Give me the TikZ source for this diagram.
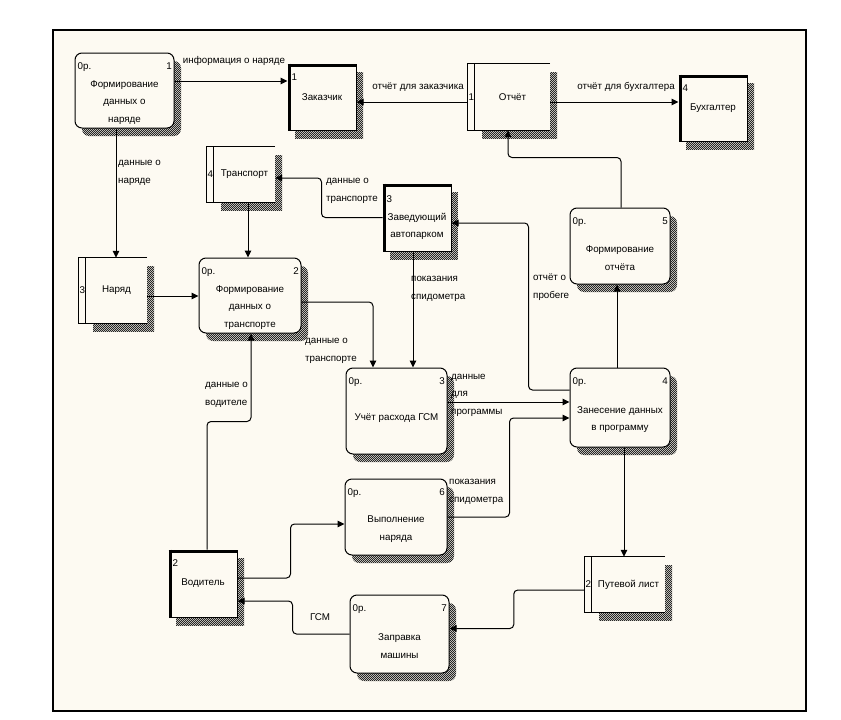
\documentclass[tikz,border=0pt]{standalone}
\usepackage{fontspec}
\setmainfont{Liberation Sans}
\usepackage{tikz}
\usetikzlibrary{arrows.meta,shadows,patterns}
\definecolor{bg}{RGB}{253,250,242}
\newcommand{\dfdFont}{\fontsize{9.8}{17.5}\selectfont}
\newcommand{\dfdLine}{1pt}
\pgfdeclarepatternformonly{dfdhatch}{\pgfqpoint{0pt}{0pt}}{\pgfqpoint{2.4pt}{2.4pt}}{\pgfqpoint{2.4pt}{2.4pt}}{%
	\pgfpathrectangle{\pgfpointorigin}{\pgfqpoint{1.5pt}{1.5pt}}%
	\pgfpathrectangle{\pgfqpoint{1.2pt}{1.2pt}}{\pgfqpoint{1.5pt}{1.5pt}}%
	\pgfusepath{fill}}

\begin{document}
\begin{tikzpicture}[x=1pt, y=-1pt, font=\dfdFont,
		every node/.style={inner sep=0pt},
		shadowed/.style={drop shadow={shadow xshift=7pt, shadow yshift=-8pt, opacity=1, pattern=dfdhatch, pattern color=black!85}},
		process/.style={draw, line width=\dfdLine, rounded corners=7pt, fill=bg, shadowed, minimum width=100pt, minimum height=76pt},
		entity/.style={draw, line width=\dfdLine, fill=bg, shadowed, minimum width=68pt, minimum height=66pt},
		store/.style={fill=bg, shadowed, minimum height=55pt},
		ptext/.style={anchor=center, align=center, yshift=-12pt},
		pnum/.style={anchor=north west, xshift=3pt, yshift=-10pt},
		pnumr/.style={anchor=north east, xshift=-2.5pt, yshift=-10pt},
		snum/.style={anchor=center, xshift=-3.5pt},
		flow/.style={line width=1pt, rounded corners=4pt, -{Triangle[length=7pt,width=6.5pt]}},
		flowtext/.style={align=left, anchor=west}]
	\useasboundingbox (0,0) rectangle (841,720);
	\fill[white] (0,0) rectangle (841,720);
	\draw[fill=bg, line width=1.3pt] (53,30) rectangle (806,711);

	% processes
	\node[process, minimum width=99pt, minimum height=75pt, label={[pnum]north west:0р.}, label={[pnumr]north east:1},
		label={[ptext]center:{Формирование\\данных о\\наряде}}] (p1) at (124.5,90.5) {};
	\node[process, minimum width=102pt, minimum height=75pt, label={[pnum]north west:0р.}, label={[pnumr]north east:2},
		label={[ptext]center:{Формирование\\данных о\\транспорте}}] (p2) at (250,295.5) {};
	\node[process, minimum width=101pt, minimum height=86pt, label={[pnum]north west:0р.}, label={[pnumr]north east:3},
		label={[ptext, yshift=5pt]center:{Учёт расхода ГСМ}}] (p3) at (396.5,411) {};
	\node[process, minimum height=79pt, label={[pnum]north west:0р.}, label={[pnumr]north east:4},
		label={[ptext]center:{Занесение данных\\в программу}}] (p4) at (620,407.5) {};
	\node[process, label={[pnum]north west:0р.}, label={[pnumr]north east:5},
		label={[ptext]center:{Формирование\\отчёта}}] (p5) at (620,246) {};
	\node[process, minimum width=102pt, label={[pnum]north west:0р.}, label={[pnumr]north east:6},
		label={[ptext]center:{Выполнение\\наряда}}] (p6) at (396,517) {};
	\node[process, minimum width=99pt, minimum height=78pt, label={[pnum]north west:0р.}, label={[pnumr]north east:7},
		label={[ptext]center:{Заправка\\машины}}] (p7) at (399.5,634) {};

	% external entities
	\node[entity, label={[pnum, xshift=1pt]north west:1}] (e1) at (322,97) {Заказчик};
	\node[entity, label={[pnum, xshift=1pt]north west:4}] (e4) at (713,108) {Бухгалтер};
	\node[entity, minimum height=67pt, label={[pnum, xshift=1pt, yshift=-2pt]north west:3},
		label={[ptext, yshift=3pt]center:{Заведующий\\автопарком}}] (e3) at (417,217.5) {};
	\node[entity, minimum height=67pt, label={[pnum, xshift=1pt]north west:2}] (e2) at (203,583.5) {Водитель};
	\foreach \nm in {e1,e2,e3,e4}{
		\draw[line width=3.5pt] ([yshift=-1.75pt]\nm.north west) -- ([yshift=-1.75pt]\nm.north east);
		\draw[line width=3pt] ([xshift=1.5pt]\nm.north west) -- ([xshift=1.5pt]\nm.south west);
	}

	% data stores
	\node[store, minimum width=75pt, minimum height=66pt, label={[snum]west:1}] (otchet) at (512.5,97) {Отчёт};
	\node[store, minimum width=61pt, label={[snum]west:4}] (transport) at (244.5,174.5) {Транспорт};
	\node[store, minimum width=61pt, minimum height=65pt, label={[snum]west:3}] (naryad) at (116.5,290.5) {Наряд};
	\node[store, minimum width=73pt, label={[snum]west:2}] (putlist) at (628.5,584.5) {Путевой лист};
	\foreach \nm in {otchet,transport,naryad,putlist}{
		\draw[line width=\dfdLine] (\nm.north east) -- ([xshift=-7pt]\nm.north west) -- ([xshift=-7pt]\nm.south west) -- (\nm.south east)
			(\nm.north west) -- (\nm.south west);
	}

	% flows
	\draw[flow] ([yshift=9.5pt]p1.east) -- ([yshift=16pt]e1.west);
	\node (tInfo) at (234,61) {информация о наряде};
	\draw[flow] ([xshift=-7pt,yshift=-5pt]otchet.west) -- ([yshift=-5pt]e1.east);
	\node (tOtchZak) at (418,87) {отчёт для заказчика};
	\draw[flow] ([yshift=-5pt]otchet.east) -- ([yshift=6pt]e4.west);
	\node (tOtchBuh) at (626,87) {отчёт для бухгалтера};
	\draw[flow] ([xshift=-8.5pt]p1.south) -- ([xshift=-0.5pt]naryad.north);
	\node[flowtext] (tNaryad) at (118,173) {данные о\\наряде};
	\draw[flow] ([xshift=3.5pt]transport.south) -- ([xshift=-2pt]p2.north);
	\draw[flow] (e3.west) -- ++(-61,0) |- ([yshift=-3.5pt]transport.east);
	\node[flowtext] (tTransp) at (326,191) {данные о\\транспорте};
	\draw[flow] ([yshift=-5.5pt]naryad.east) -- ([yshift=-0.5pt]p2.west);
	\draw[flow] ([yshift=-6.5pt]p2.east) -| ([xshift=-23.5pt]p3.north);
	\node[flowtext] (tTransp2) at (305,351) {данные о\\транспорте};
	\draw[flow] ([xshift=-4pt]e3.south) -- ([xshift=16.5pt]p3.north);
	\node[flowtext] (tSpid) at (411,289) {показания\\спидометра};
	\draw[flow] ([yshift=9pt]p3.east) -- ([yshift=5.5pt]p4.west);
	\node[flowtext] (tProg) at (451,395) {данные\\для\\программы};
	\draw[flow] ([yshift=17.5pt]p4.west) -- ++(-41,0) |- ([yshift=-5.5pt]e3.east);
	\node[flowtext] (tProbeg) at (533,287) {отчёт о\\пробеге};
	\draw[flow] (p6.east) -- ++(62,0) |- ([yshift=-10.5pt]p4.west);
	\node[flowtext] (tSpid2) at (449,492) {показания\\спидометра};
	\draw[flow] ([xshift=-3pt]p4.north) -- ([xshift=-3pt]p5.south);
	\draw[flow] ([xshift=1pt]p5.north) -- ++(0,-50) -| ([xshift=-4.5pt]otchet.south);
	\draw[flow] ([xshift=4pt]p4.south) -- ([xshift=-4.5pt]putlist.north);
	\draw[flow] ([xshift=-7pt,yshift=-5.5pt]putlist.west) -- ++(-71,0) |- ([yshift=5.5pt]p7.east);
	\draw[flow] (p7.west) -- ++(-57,0) |- ([yshift=-17.5pt]e2.east);
	\node (tGSM) at (320,617) {ГСМ};
	\draw[flow] ([yshift=5.5pt]e2.east) -- ++(53,0) |- ([yshift=-7pt]p6.west);
	\draw[flow] ([xshift=4pt]e2.north) -- ++(0,-128) -| ([xshift=1pt]p2.south);
	\node[flowtext] (tVod) at (205,395) {данные о\\водителе};
\end{tikzpicture}
\end{document}
